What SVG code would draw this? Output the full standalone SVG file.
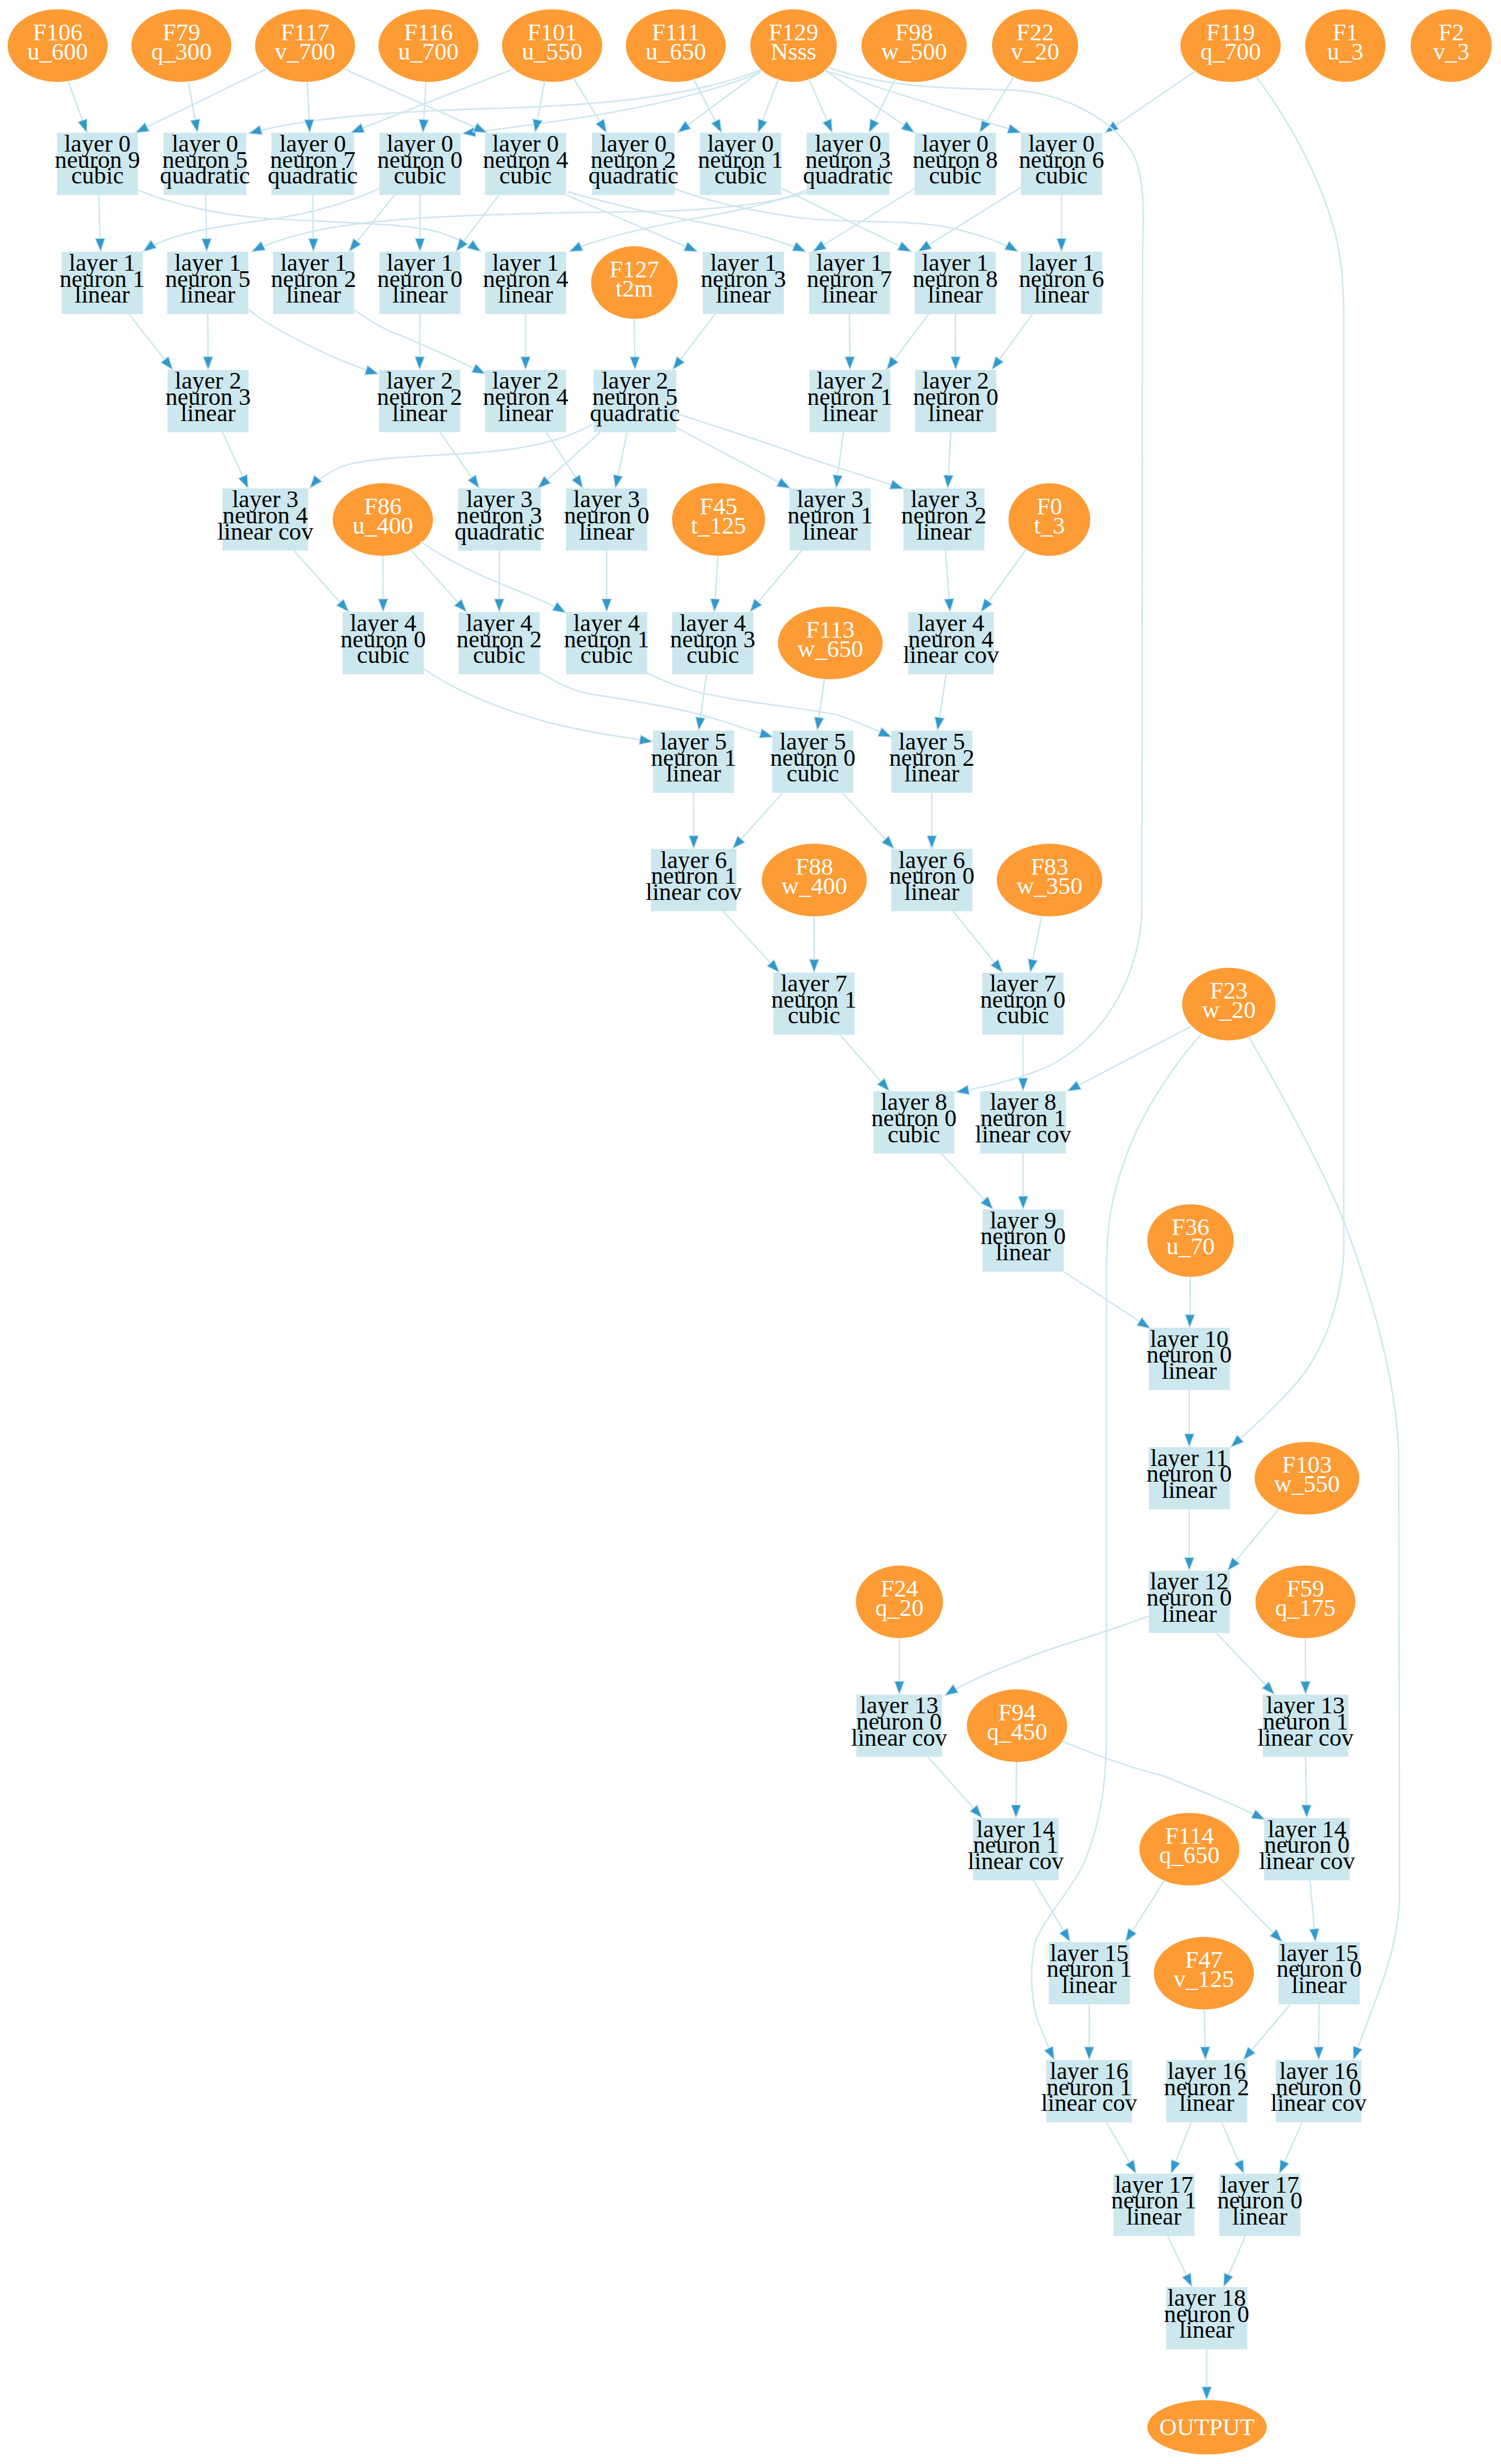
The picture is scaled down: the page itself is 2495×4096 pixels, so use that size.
<svg xmlns="http://www.w3.org/2000/svg" width="2495" height="4096" viewBox="0 0 2495 4096">
<style>
.b rect{fill:#cde7ee}
.b text{font-family:"Liberation Serif","Times New Roman",serif;font-size:15.4px;fill:#000;text-anchor:middle}
.e ellipse{fill:#fd9b35}
.e text{font-family:"Liberation Serif","Times New Roman",serif;font-size:15.4px;fill:#fff;text-anchor:middle}
#edges path{fill:none;stroke:#cde7ee;stroke-width:0.95;marker-end:url(#ah)}
</style>
<defs>
<marker id="ah" markerUnits="userSpaceOnUse" markerWidth="12" markerHeight="10" refX="8.5" refY="3.2" orient="auto" overflow="visible">
<path d="M0,0 L8.5,3.2 L0,6.4 Z" fill="#3399cc" stroke="#cde7ee" stroke-width="0.6"/>
</marker>
</defs>
<rect width="2495" height="4096" fill="#fff"/>
<g transform="scale(2.6124)">
<g id="nodes">
<g id="F106" class="e"><ellipse cx="36.7" cy="29" rx="31.8" ry="23.1"/><text><tspan x="36.7" y="25.5">F106</tspan><tspan x="36.7" y="37.8">u_600</tspan></text></g>
<g id="F79" class="e"><ellipse cx="115.4" cy="29" rx="31.8" ry="23.1"/><text><tspan x="115.4" y="25.5">F79</tspan><tspan x="115.4" y="37.8">q_300</tspan></text></g>
<g id="F117" class="e"><ellipse cx="194.1" cy="29" rx="31.8" ry="23.1"/><text><tspan x="194.1" y="25.5">F117</tspan><tspan x="194.1" y="37.8">v_700</tspan></text></g>
<g id="F116" class="e"><ellipse cx="272.6" cy="29" rx="31.8" ry="23.1"/><text><tspan x="272.6" y="25.5">F116</tspan><tspan x="272.6" y="37.8">u_700</tspan></text></g>
<g id="F101" class="e"><ellipse cx="351.3" cy="29" rx="31.9" ry="23.1"/><text><tspan x="351.3" y="25.5">F101</tspan><tspan x="351.3" y="37.8">u_550</tspan></text></g>
<g id="F111" class="e"><ellipse cx="430" cy="29" rx="31.8" ry="23.1"/><text><tspan x="430" y="25.5">F111</tspan><tspan x="430" y="37.8">u_650</tspan></text></g>
<g id="F129" class="e"><ellipse cx="504.9" cy="29" rx="27.5" ry="23.1"/><text><tspan x="504.9" y="25.5">F129</tspan><tspan x="504.9" y="37.8">Nsss</tspan></text></g>
<g id="F98" class="e"><ellipse cx="581.6" cy="29" rx="33.5" ry="23.1"/><text><tspan x="581.6" y="25.5">F98</tspan><tspan x="581.6" y="37.8">w_500</tspan></text></g>
<g id="F22" class="e"><ellipse cx="658.6" cy="29" rx="27.4" ry="23.1"/><text><tspan x="658.6" y="25.5">F22</tspan><tspan x="658.6" y="37.8">v_20</tspan></text></g>
<g id="F119" class="e"><ellipse cx="783" cy="29" rx="31.9" ry="23.1"/><text><tspan x="783" y="25.5">F119</tspan><tspan x="783" y="37.8">q_700</tspan></text></g>
<g id="F1" class="e"><ellipse cx="856" cy="29" rx="25.6" ry="23.1"/><text><tspan x="856" y="25.5">F1</tspan><tspan x="856" y="37.8">u_3</tspan></text></g>
<g id="F2" class="e"><ellipse cx="923.4" cy="29" rx="25.8" ry="23.1"/><text><tspan x="923.4" y="25.5">F2</tspan><tspan x="923.4" y="37.8">v_3</tspan></text></g>
<g id="F127" class="e"><ellipse cx="403.6" cy="179.8" rx="27.5" ry="23.1"/><text><tspan x="403.6" y="176.3">F127</tspan><tspan x="403.6" y="188.6">t2m</tspan></text></g>
<g id="F86" class="e"><ellipse cx="243.6" cy="330.6" rx="31.9" ry="23.1"/><text><tspan x="243.6" y="327.1">F86</tspan><tspan x="243.6" y="339.4">u_400</tspan></text></g>
<g id="F45" class="e"><ellipse cx="457.2" cy="330.6" rx="29.6" ry="23.1"/><text><tspan x="457.2" y="327.1">F45</tspan><tspan x="457.2" y="339.4">t_125</tspan></text></g>
<g id="F0" class="e"><ellipse cx="667.7" cy="330.6" rx="26" ry="23.1"/><text><tspan x="667.7" y="327.1">F0</tspan><tspan x="667.7" y="339.4">t_3</tspan></text></g>
<g id="F113" class="e"><ellipse cx="528.3" cy="409.1" rx="33.3" ry="23.1"/><text><tspan x="528.3" y="405.6">F113</tspan><tspan x="528.3" y="417.9">w_650</tspan></text></g>
<g id="F88" class="e"><ellipse cx="518.1" cy="560" rx="33.4" ry="23.1"/><text><tspan x="518.1" y="556.5">F88</tspan><tspan x="518.1" y="568.8">w_400</tspan></text></g>
<g id="F83" class="e"><ellipse cx="667.8" cy="560" rx="33.6" ry="23.1"/><text><tspan x="667.8" y="556.5">F83</tspan><tspan x="667.8" y="568.8">w_350</tspan></text></g>
<g id="F23" class="e"><ellipse cx="781.9" cy="638.9" rx="29.7" ry="23.1"/><text><tspan x="781.9" y="635.4">F23</tspan><tspan x="781.9" y="647.7">w_20</tspan></text></g>
<g id="F36" class="e"><ellipse cx="757.5" cy="789.4" rx="27.5" ry="23.1"/><text><tspan x="757.5" y="785.9">F36</tspan><tspan x="757.5" y="798.2">u_70</tspan></text></g>
<g id="F103" class="e"><ellipse cx="831.6" cy="940.6" rx="33.3" ry="23.1"/><text><tspan x="831.6" y="937.1">F103</tspan><tspan x="831.6" y="949.4">w_550</tspan></text></g>
<g id="F24" class="e"><ellipse cx="572.3" cy="1019.3" rx="27.7" ry="23.1"/><text><tspan x="572.3" y="1015.8">F24</tspan><tspan x="572.3" y="1028.1">q_20</tspan></text></g>
<g id="F59" class="e"><ellipse cx="830.6" cy="1019.3" rx="31.8" ry="23.1"/><text><tspan x="830.6" y="1015.8">F59</tspan><tspan x="830.6" y="1028.1">q_175</tspan></text></g>
<g id="F94" class="e"><ellipse cx="647.1" cy="1098.1" rx="31.9" ry="23.1"/><text><tspan x="647.1" y="1094.6">F94</tspan><tspan x="647.1" y="1106.9">q_450</tspan></text></g>
<g id="F114" class="e"><ellipse cx="756.8" cy="1176.7" rx="31.8" ry="23.1"/><text><tspan x="756.8" y="1173.2">F114</tspan><tspan x="756.8" y="1185.5">q_650</tspan></text></g>
<g id="F47" class="e"><ellipse cx="766" cy="1255.6" rx="31.8" ry="23.1"/><text><tspan x="766" y="1252.1">F47</tspan><tspan x="766" y="1264.4">v_125</tspan></text></g>
<g id="OUTPUT" class="e"><ellipse cx="768" cy="1544.5" rx="38" ry="17.3"/><text x="768" y="1549.5">OUTPUT</text></g>

<g id="L0N9" class="b"><rect x="36.2" y="84.5" width="51.6" height="39.6"/><text><tspan x="62" y="96.5">layer 0</tspan><tspan x="62" y="106.7">neuron 9</tspan><tspan x="62" y="116.9">cubic</tspan></text></g>
<g id="L0N5" class="b"><rect x="104.1" y="84.5" width="52.6" height="39.6"/><text><tspan x="130.4" y="96.5">layer 0</tspan><tspan x="130.4" y="106.7">neuron 5</tspan><tspan x="130.4" y="116.9">quadratic</tspan></text></g>
<g id="L0N7" class="b"><rect x="172.7" y="84.5" width="52.6" height="39.6"/><text><tspan x="199" y="96.5">layer 0</tspan><tspan x="199" y="106.7">neuron 7</tspan><tspan x="199" y="116.9">quadratic</tspan></text></g>
<g id="L0N0" class="b"><rect x="241.4" y="84.5" width="51.6" height="39.6"/><text><tspan x="267.2" y="96.5">layer 0</tspan><tspan x="267.2" y="106.7">neuron 0</tspan><tspan x="267.2" y="116.9">cubic</tspan></text></g>
<g id="L0N4" class="b"><rect x="308.6" y="84.5" width="51.6" height="39.6"/><text><tspan x="334.4" y="96.5">layer 0</tspan><tspan x="334.4" y="106.7">neuron 4</tspan><tspan x="334.4" y="116.9">cubic</tspan></text></g>
<g id="L0N2" class="b"><rect x="376.7" y="84.5" width="52.6" height="39.6"/><text><tspan x="403" y="96.5">layer 0</tspan><tspan x="403" y="106.7">neuron 2</tspan><tspan x="403" y="116.9">quadratic</tspan></text></g>
<g id="L0N1" class="b"><rect x="445.4" y="84.5" width="51.6" height="39.6"/><text><tspan x="471.2" y="96.5">layer 0</tspan><tspan x="471.2" y="106.7">neuron 1</tspan><tspan x="471.2" y="116.9">cubic</tspan></text></g>
<g id="L0N3" class="b"><rect x="513.3" y="84.5" width="52.6" height="39.6"/><text><tspan x="539.6" y="96.5">layer 0</tspan><tspan x="539.6" y="106.7">neuron 3</tspan><tspan x="539.6" y="116.9">quadratic</tspan></text></g>
<g id="L0N8" class="b"><rect x="582" y="84.5" width="51.6" height="39.6"/><text><tspan x="607.8" y="96.5">layer 0</tspan><tspan x="607.8" y="106.7">neuron 8</tspan><tspan x="607.8" y="116.9">cubic</tspan></text></g>
<g id="L0N6" class="b"><rect x="649.6" y="84.5" width="51.6" height="39.6"/><text><tspan x="675.4" y="96.5">layer 0</tspan><tspan x="675.4" y="106.7">neuron 6</tspan><tspan x="675.4" y="116.9">cubic</tspan></text></g>

<g id="L1N1" class="b"><rect x="39.2" y="160.2" width="51.6" height="39.6"/><text><tspan x="65" y="172.2">layer 1</tspan><tspan x="65" y="182.4">neuron 1</tspan><tspan x="65" y="192.6">linear</tspan></text></g>
<g id="L1N5" class="b"><rect x="106.4" y="160.2" width="51.6" height="39.6"/><text><tspan x="132.2" y="172.2">layer 1</tspan><tspan x="132.2" y="182.4">neuron 5</tspan><tspan x="132.2" y="192.6">linear</tspan></text></g>
<g id="L1N2" class="b"><rect x="173.7" y="160.2" width="51.6" height="39.6"/><text><tspan x="199.5" y="172.2">layer 1</tspan><tspan x="199.5" y="182.4">neuron 2</tspan><tspan x="199.5" y="192.6">linear</tspan></text></g>
<g id="L1N0" class="b"><rect x="241.4" y="160.2" width="51.6" height="39.6"/><text><tspan x="267.2" y="172.2">layer 1</tspan><tspan x="267.2" y="182.4">neuron 0</tspan><tspan x="267.2" y="192.6">linear</tspan></text></g>
<g id="L1N4" class="b"><rect x="308.6" y="160.2" width="51.6" height="39.6"/><text><tspan x="334.4" y="172.2">layer 1</tspan><tspan x="334.4" y="182.4">neuron 4</tspan><tspan x="334.4" y="192.6">linear</tspan></text></g>
<g id="L1N3" class="b"><rect x="447.2" y="160.2" width="51.6" height="39.6"/><text><tspan x="473" y="172.2">layer 1</tspan><tspan x="473" y="182.4">neuron 3</tspan><tspan x="473" y="192.6">linear</tspan></text></g>
<g id="L1N7" class="b"><rect x="514.7" y="160.2" width="51.6" height="39.6"/><text><tspan x="540.5" y="172.2">layer 1</tspan><tspan x="540.5" y="182.4">neuron 7</tspan><tspan x="540.5" y="192.6">linear</tspan></text></g>
<g id="L1N8" class="b"><rect x="582" y="160.2" width="51.6" height="39.6"/><text><tspan x="607.8" y="172.2">layer 1</tspan><tspan x="607.8" y="182.4">neuron 8</tspan><tspan x="607.8" y="192.6">linear</tspan></text></g>
<g id="L1N6" class="b"><rect x="649.6" y="160.2" width="51.6" height="39.6"/><text><tspan x="675.4" y="172.2">layer 1</tspan><tspan x="675.4" y="182.4">neuron 6</tspan><tspan x="675.4" y="192.6">linear</tspan></text></g>

<g id="L2N3" class="b"><rect x="106.6" y="235.4" width="51.6" height="39.6"/><text><tspan x="132.4" y="247.4">layer 2</tspan><tspan x="132.4" y="257.6">neuron 3</tspan><tspan x="132.4" y="267.8">linear</tspan></text></g>
<g id="L2N2" class="b"><rect x="241.2" y="235.4" width="51.6" height="39.6"/><text><tspan x="267" y="247.4">layer 2</tspan><tspan x="267" y="257.6">neuron 2</tspan><tspan x="267" y="267.8">linear</tspan></text></g>
<g id="L2N4" class="b"><rect x="308.6" y="235.4" width="51.6" height="39.6"/><text><tspan x="334.4" y="247.4">layer 2</tspan><tspan x="334.4" y="257.6">neuron 4</tspan><tspan x="334.4" y="267.8">linear</tspan></text></g>
<g id="L2N5" class="b"><rect x="377.7" y="235.4" width="52.6" height="39.6"/><text><tspan x="404" y="247.4">layer 2</tspan><tspan x="404" y="257.6">neuron 5</tspan><tspan x="404" y="267.8">quadratic</tspan></text></g>
<g id="L2N1" class="b"><rect x="515" y="235.4" width="51.6" height="39.6"/><text><tspan x="540.8" y="247.4">layer 2</tspan><tspan x="540.8" y="257.6">neuron 1</tspan><tspan x="540.8" y="267.8">linear</tspan></text></g>
<g id="L2N0" class="b"><rect x="582.3" y="235.4" width="51.6" height="39.6"/><text><tspan x="608.1" y="247.4">layer 2</tspan><tspan x="608.1" y="257.6">neuron 0</tspan><tspan x="608.1" y="267.8">linear</tspan></text></g>

<g id="L3N4" class="b"><rect x="141.55" y="310.8" width="54.5" height="39.6"/><text><tspan x="168.8" y="322.8">layer 3</tspan><tspan x="168.8" y="333">neuron 4</tspan><tspan x="168.8" y="343.2">linear cov</tspan></text></g>
<g id="L3N3" class="b"><rect x="291.5" y="310.8" width="52.6" height="39.6"/><text><tspan x="317.8" y="322.8">layer 3</tspan><tspan x="317.8" y="333">neuron 3</tspan><tspan x="317.8" y="343.2">quadratic</tspan></text></g>
<g id="L3N0" class="b"><rect x="360.2" y="310.8" width="51.6" height="39.6"/><text><tspan x="386" y="322.8">layer 3</tspan><tspan x="386" y="333">neuron 0</tspan><tspan x="386" y="343.2">linear</tspan></text></g>
<g id="L3N1" class="b"><rect x="502.4" y="310.8" width="51.6" height="39.6"/><text><tspan x="528.2" y="322.8">layer 3</tspan><tspan x="528.2" y="333">neuron 1</tspan><tspan x="528.2" y="343.2">linear</tspan></text></g>
<g id="L3N2" class="b"><rect x="574.8" y="310.8" width="51.6" height="39.6"/><text><tspan x="600.6" y="322.8">layer 3</tspan><tspan x="600.6" y="333">neuron 2</tspan><tspan x="600.6" y="343.2">linear</tspan></text></g>

<g id="L4N0" class="b"><rect x="218" y="389.5" width="51.6" height="39.6"/><text><tspan x="243.8" y="401.5">layer 4</tspan><tspan x="243.8" y="411.7">neuron 0</tspan><tspan x="243.8" y="421.9">cubic</tspan></text></g>
<g id="L4N2" class="b"><rect x="291.8" y="389.5" width="51.6" height="39.6"/><text><tspan x="317.6" y="401.5">layer 4</tspan><tspan x="317.6" y="411.7">neuron 2</tspan><tspan x="317.6" y="421.9">cubic</tspan></text></g>
<g id="L4N1" class="b"><rect x="360.2" y="389.5" width="51.6" height="39.6"/><text><tspan x="386" y="401.5">layer 4</tspan><tspan x="386" y="411.7">neuron 1</tspan><tspan x="386" y="421.9">cubic</tspan></text></g>
<g id="L4N3" class="b"><rect x="427.7" y="389.5" width="51.6" height="39.6"/><text><tspan x="453.5" y="401.5">layer 4</tspan><tspan x="453.5" y="411.7">neuron 3</tspan><tspan x="453.5" y="421.9">cubic</tspan></text></g>
<g id="L4N4" class="b"><rect x="577.85" y="389.5" width="54.5" height="39.6"/><text><tspan x="605.1" y="401.5">layer 4</tspan><tspan x="605.1" y="411.7">neuron 4</tspan><tspan x="605.1" y="421.9">linear cov</tspan></text></g>

<g id="L5N1" class="b"><rect x="415.5" y="464.9" width="51.6" height="39.6"/><text><tspan x="441.3" y="476.9">layer 5</tspan><tspan x="441.3" y="487.1">neuron 1</tspan><tspan x="441.3" y="497.3">linear</tspan></text></g>
<g id="L5N0" class="b"><rect x="491.4" y="464.9" width="51.6" height="39.6"/><text><tspan x="517.2" y="476.9">layer 5</tspan><tspan x="517.2" y="487.1">neuron 0</tspan><tspan x="517.2" y="497.3">cubic</tspan></text></g>
<g id="L5N2" class="b"><rect x="567.1" y="464.9" width="51.6" height="39.6"/><text><tspan x="592.9" y="476.9">layer 5</tspan><tspan x="592.9" y="487.1">neuron 2</tspan><tspan x="592.9" y="497.3">linear</tspan></text></g>

<g id="L6N1" class="b"><rect x="414.15" y="540.2" width="54.5" height="39.6"/><text><tspan x="441.4" y="552.2">layer 6</tspan><tspan x="441.4" y="562.4">neuron 1</tspan><tspan x="441.4" y="572.6">linear cov</tspan></text></g>
<g id="L6N0" class="b"><rect x="567.1" y="540.2" width="51.6" height="39.6"/><text><tspan x="592.9" y="552.2">layer 6</tspan><tspan x="592.9" y="562.4">neuron 0</tspan><tspan x="592.9" y="572.6">linear</tspan></text></g>

<g id="L7N1" class="b"><rect x="492.1" y="618.9" width="51.6" height="39.6"/><text><tspan x="517.9" y="630.9">layer 7</tspan><tspan x="517.9" y="641.1">neuron 1</tspan><tspan x="517.9" y="651.3">cubic</tspan></text></g>
<g id="L7N0" class="b"><rect x="625" y="618.9" width="51.6" height="39.6"/><text><tspan x="650.8" y="630.9">layer 7</tspan><tspan x="650.8" y="641.1">neuron 0</tspan><tspan x="650.8" y="651.3">cubic</tspan></text></g>

<g id="L8N0" class="b"><rect x="555.7" y="694.4" width="51.6" height="39.6"/><text><tspan x="581.5" y="706.4">layer 8</tspan><tspan x="581.5" y="716.6">neuron 0</tspan><tspan x="581.5" y="726.8">cubic</tspan></text></g>
<g id="L8N1" class="b"><rect x="623.75" y="694.4" width="54.5" height="39.6"/><text><tspan x="651" y="706.4">layer 8</tspan><tspan x="651" y="716.6">neuron 1</tspan><tspan x="651" y="726.8">linear cov</tspan></text></g>

<g id="L9N0" class="b"><rect x="625.2" y="769.6" width="51.6" height="39.6"/><text><tspan x="651" y="781.6">layer 9</tspan><tspan x="651" y="791.8">neuron 0</tspan><tspan x="651" y="802">linear</tspan></text></g>
<g id="L10N0" class="b"><rect x="730.9" y="844.9" width="51.6" height="39.6"/><text><tspan x="756.7" y="856.9">layer 10</tspan><tspan x="756.7" y="867.1">neuron 0</tspan><tspan x="756.7" y="877.3">linear</tspan></text></g>
<g id="L11N0" class="b"><rect x="730.9" y="920.8" width="51.6" height="39.6"/><text><tspan x="756.7" y="932.8">layer 11</tspan><tspan x="756.7" y="943">neuron 0</tspan><tspan x="756.7" y="953.2">linear</tspan></text></g>
<g id="L12N0" class="b"><rect x="730.9" y="999.5" width="51.6" height="39.6"/><text><tspan x="756.7" y="1011.5">layer 12</tspan><tspan x="756.7" y="1021.7">neuron 0</tspan><tspan x="756.7" y="1031.9">linear</tspan></text></g>

<g id="L13N0" class="b"><rect x="544.85" y="1078.3" width="54.5" height="39.6"/><text><tspan x="572.1" y="1090.3">layer 13</tspan><tspan x="572.1" y="1100.5">neuron 0</tspan><tspan x="572.1" y="1110.7">linear cov</tspan></text></g>
<g id="L13N1" class="b"><rect x="803.45" y="1078.3" width="54.5" height="39.6"/><text><tspan x="830.7" y="1090.3">layer 13</tspan><tspan x="830.7" y="1100.5">neuron 1</tspan><tspan x="830.7" y="1110.7">linear cov</tspan></text></g>

<g id="L14N1" class="b"><rect x="619.05" y="1156.9" width="54.5" height="39.6"/><text><tspan x="646.3" y="1168.9">layer 14</tspan><tspan x="646.3" y="1179.1">neuron 1</tspan><tspan x="646.3" y="1189.3">linear cov</tspan></text></g>
<g id="L14N0" class="b"><rect x="804.35" y="1156.9" width="54.5" height="39.6"/><text><tspan x="831.6" y="1168.9">layer 14</tspan><tspan x="831.6" y="1179.1">neuron 0</tspan><tspan x="831.6" y="1189.3">linear cov</tspan></text></g>

<g id="L15N1" class="b"><rect x="667.3" y="1235.8" width="51.6" height="39.6"/><text><tspan x="693.1" y="1247.8">layer 15</tspan><tspan x="693.1" y="1258">neuron 1</tspan><tspan x="693.1" y="1268.2">linear</tspan></text></g>
<g id="L15N0" class="b"><rect x="813.5" y="1235.8" width="51.6" height="39.6"/><text><tspan x="839.3" y="1247.8">layer 15</tspan><tspan x="839.3" y="1258">neuron 0</tspan><tspan x="839.3" y="1268.2">linear</tspan></text></g>

<g id="L16N1" class="b"><rect x="665.75" y="1310.9" width="54.5" height="39.6"/><text><tspan x="693" y="1322.9">layer 16</tspan><tspan x="693" y="1333.1">neuron 1</tspan><tspan x="693" y="1343.3">linear cov</tspan></text></g>
<g id="L16N2" class="b"><rect x="742" y="1310.9" width="51.6" height="39.6"/><text><tspan x="767.8" y="1322.9">layer 16</tspan><tspan x="767.8" y="1333.1">neuron 2</tspan><tspan x="767.8" y="1343.3">linear</tspan></text></g>
<g id="L16N0" class="b"><rect x="811.75" y="1310.9" width="54.5" height="39.6"/><text><tspan x="839" y="1322.9">layer 16</tspan><tspan x="839" y="1333.1">neuron 0</tspan><tspan x="839" y="1343.3">linear cov</tspan></text></g>

<g id="L17N1" class="b"><rect x="708.4" y="1383.2" width="51.6" height="39.6"/><text><tspan x="734.2" y="1395.2">layer 17</tspan><tspan x="734.2" y="1405.4">neuron 1</tspan><tspan x="734.2" y="1415.6">linear</tspan></text></g>
<g id="L17N0" class="b"><rect x="775.8" y="1383.2" width="51.6" height="39.6"/><text><tspan x="801.6" y="1395.2">layer 17</tspan><tspan x="801.6" y="1405.4">neuron 0</tspan><tspan x="801.6" y="1415.6">linear</tspan></text></g>

<g id="L18N0" class="b"><rect x="742" y="1455.3" width="51.6" height="39.6"/><text><tspan x="767.8" y="1467.3">layer 18</tspan><tspan x="767.8" y="1477.5">neuron 0</tspan><tspan x="767.8" y="1487.7">linear</tspan></text></g>
</g>

<g id="edges">
<path d="M43.3,51.4 L55.3,84.5"/>
<path d="M170,43.6 L86,84.5"/>
<path d="M119.7,51.6 L125.7,84.5"/>
<path d="M484.4,44.4 C440,62 380,67 315,69 C240,71 190,76 158,85"/>
<path d="M195.5,52 L197.1,84.5"/>
<path d="M327.4,43.6 L223,84.5"/>
<path d="M271.1,52 L269.1,84.5"/>
<path d="M484,46 C430,68 360,77 294,85"/>
<path d="M218.3,43.6 L310,84.5"/>
<path d="M346.6,51.4 L340.5,84.5"/>
<path d="M364.7,49.3 L386,84.5"/>
<path d="M484.4,45 L431,84.5"/>
<path d="M441.1,50 L459.2,84.5"/>
<path d="M495.4,50 L482.3,84.5"/>
<path d="M514.5,50 L529.6,84.5"/>
<path d="M569.8,50 L552.8,84.5"/>
<path d="M524.6,44.4 L582,84.5"/>
<path d="M645.2,48.6 L623.2,84.5"/>
<path d="M525.6,45 L649.8,84.5"/>
<path d="M761,45 L703,84.5"/>
<path d="M527,43 C570,58 620,56 650,57.7 C685,62 712,80 722,100 C728,115 728,135 727,160 L726.5,582 C724,620 705,660 666,679 C645,688 625,692 608,695"/>
<path d="M799.3,48.6 C815,70 830,95 840,120 C850,145 855,165 855,200 L855,798 C853,830 842,860 825,880 C810,897 795,910 783,921"/>

<path d="M62.8,124.1 L64,160.2"/>
<path d="M88,121 C110,130 140,137 170,139 C220,142 260,142 280,148 C292,152 300,156 306,160.2"/>
<path d="M130.8,124.1 L131.6,160.2"/>
<path d="M199,124.1 L199.4,160.2"/>
<path d="M251,124.1 L222,160.2"/>
<path d="M267.2,124.1 L267.2,160.2"/>
<path d="M241.4,120 C215,132 190,137 169,140 C130,145 105,150 91,160.2"/>
<path d="M317.4,124.1 L290,160.2"/>
<path d="M358,123 L444,160.2"/>
<path d="M361,122 C390,130 410,135 428,138 C460,144 490,150 513,160.2"/>
<path d="M429,120 C450,128 475,134 512,139 C545,142 575,140 600,144 C620,148 635,153 648,160.2"/>
<path d="M497.4,120 L580,160.2"/>
<path d="M513,121 C490,130 465,135 442,139 C405,146 380,152 362,160.2"/>
<path d="M515,122 C480,133 430,135 378,135 C330,136 280,137 241,141 C210,144 180,150 160,160.2"/>
<path d="M582,120 L517,160.2"/>
<path d="M650,119 L584,160.2"/>
<path d="M675.4,124.1 L675.4,160.2"/>

<path d="M82,199.8 L110,235.4"/>
<path d="M132.2,199.8 L132.4,235.4"/>
<path d="M158.3,197 C165,203 180,212 199,221 C215,229 228,234 241,238"/>
<path d="M225.3,197 C235,204 245,210 254,213 C275,222 295,231 309,238"/>
<path d="M267.2,199.8 L267,235.4"/>
<path d="M334.4,199.8 L334.4,235.4"/>
<path d="M403.6,202.9 L404,235.4"/>
<path d="M455,199.8 L428,235.4"/>
<path d="M540.5,199.8 L540.8,235.4"/>
<path d="M591,199.8 L564,235.4"/>
<path d="M607.8,199.8 L608.1,235.4"/>
<path d="M657,199.8 L631,235.4"/>

<path d="M141.6,275 L158,310.8"/>
<path d="M377,270 C355,282 330,287 288,289 C250,291 225,293 215,298 C207,302 201,306 197,310.8"/>
<path d="M280,275 L305,310.8"/>
<path d="M382,275 L342,310.8"/>
<path d="M347.5,275 L371,310.8"/>
<path d="M399,275 L391.5,310.8"/>
<path d="M430.2,272 L503,310.8"/>
<path d="M430.2,263 C460,273 490,282 510,290 C540,300 560,306 575,311"/>
<path d="M536.6,275 L532,310.8"/>
<path d="M605,275 L603,310.8"/>

<path d="M187,350.4 L222,389.5"/>
<path d="M243.6,353.7 L243.8,389.5"/>
<path d="M261,349.5 L297,389.5"/>
<path d="M267.7,344.5 C285,357 305,366 320,372 C335,378 350,384 360.2,390"/>
<path d="M317.8,350.4 L317.6,389.5"/>
<path d="M386,350.4 L386,389.5"/>
<path d="M456.8,353.7 L454.5,389.5"/>
<path d="M510,350.4 L477,389.5"/>
<path d="M601.7,350.4 L604.5,389.5"/>
<path d="M653,349.5 L624,389.5"/>

<path d="M268.8,425 C290,440 320,452 350,460 C375,466 395,469 415.5,472"/>
<path d="M343,427.5 C355,435 365,440 378,442 C410,447 440,452 460,459 C475,464 485,467 492,469"/>
<path d="M411.6,428 C430,438 450,442 467,445 C500,450 520,452 533,455 C548,460 558,465 567.5,469"/>
<path d="M449.5,429.1 L444.5,464.9"/>
<path d="M524.5,432.2 L520,464.9"/>
<path d="M602,429.1 L596.5,464.9"/>

<path d="M441.3,504.5 L441.4,540.2"/>
<path d="M498,504.5 L466,540.2"/>
<path d="M536,504.5 L569,540.2"/>
<path d="M592.9,504.5 L592.9,540.2"/>

<path d="M460,579.8 L496,618.9"/>
<path d="M518.1,583.1 L518,618.9"/>
<path d="M606.4,579.8 L638,618.9"/>
<path d="M662.8,583 L655.5,618.9"/>

<path d="M534.5,658.5 L566,694.4"/>
<path d="M650.8,658.5 L651,694.4"/>
<path d="M758,653 L679,694.4"/>

<path d="M599,734 L632,769.6"/>
<path d="M651,734 L651,769.6"/>

<path d="M677,809.2 L732,845.5"/>
<path d="M757.4,812.5 L757,844.9"/>

<path d="M756.7,884.5 L756.7,920.8"/>

<path d="M756.7,960.4 L756.7,999.5"/>
<path d="M813.7,960.2 L781,999.5"/>

<path d="M730.8,1028.4 C700,1040 680,1045 661,1052 C635,1062 615,1070 601,1079"/>
<path d="M572.3,1042.4 L572.2,1078.3"/>
<path d="M774,1039.1 L811,1078.3"/>
<path d="M830.6,1042.4 L830.7,1078.3"/>

<path d="M590.4,1117.9 L625,1156.9"/>
<path d="M646.8,1121.2 L646.4,1156.9"/>
<path d="M676,1108 C700,1118 720,1125 740,1130 C765,1140 785,1148 805,1158"/>
<path d="M830.7,1117.9 L831.4,1156.9"/>

<path d="M657.6,1196.5 L681,1235.8"/>
<path d="M741,1196.5 L716,1235.8"/>
<path d="M776.5,1195.3 L816,1235.8"/>
<path d="M833.6,1196.5 L837,1235.8"/>

<path d="M693.1,1275.4 L693,1310.9"/>
<path d="M764.3,658 C745,680 725,710 715,740 C706,765 704,785 704,810 L704,1110 C703,1140 700,1160 690,1185 C680,1205 665,1220 659,1235 C654,1255 657,1280 662,1290 C665,1298 668,1305 671,1310.9"/>
<path d="M766.3,1278.8 L767,1310.9"/>
<path d="M821,1275.4 L791,1310.9"/>
<path d="M839.3,1275.4 L839,1310.9"/>
<path d="M794.4,659.5 C815,695 840,740 855,777 C875,830 888,880 890,923 L890.5,1210 C889,1235 882,1255 876,1271 C870,1287 865,1300 861,1310.9"/>

<path d="M704,1350.5 L723,1383.2"/>
<path d="M758,1350.5 L745,1383.2"/>
<path d="M777.3,1350.5 L791.5,1383.2"/>
<path d="M828.5,1350.5 L814,1383.2"/>

<path d="M743,1422.8 L758.5,1455.3"/>
<path d="M792.3,1422.8 L778.5,1455.3"/>

<path d="M767.8,1494.9 L767.8,1527.2"/>
</g>
</g>
</svg>
